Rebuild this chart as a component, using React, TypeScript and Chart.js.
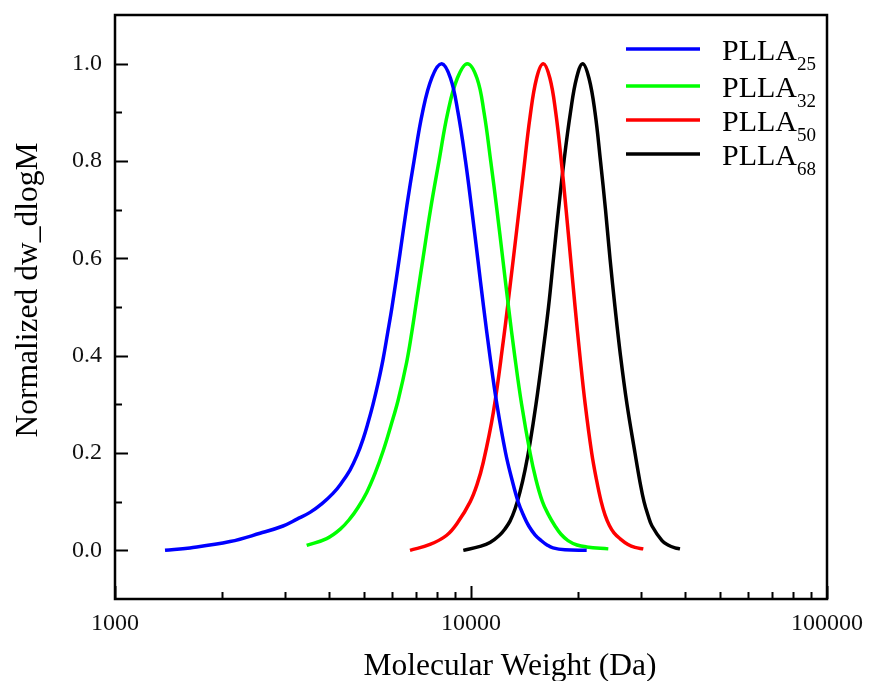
import React, { useEffect, useRef } from "react";
import { Chart, registerables } from "chart.js";

Chart.register(...registerables);

// ---- Data ----
const seriesNames = ["PLLA", "PLLA", "PLLA", "PLLA"];
const seriesSubs = ["25", "32", "50", "68"];
const seriesColors = ["#0000FF", "#00FF00", "#FF0000", "#000000"];

// Molecular weight (Da) / Normalized dw/dlogM
const pllA25_x = [1382, 1624, 2104, 2555, 2965, 3245, 3530, 3815, 4096, 4313, 4572, 4784, 4973, 5137, 5306, 5480, 5660, 5827, 6000, 6318, 6610, 6917, 7308, 7770, 8274, 8759, 9194, 9651, 10052, 10443, 10849, 11300, 11824, 12509, 13037, 13561, 14044, 14533, 15127, 15747, 16349, 16996, 18366, 21135];
const pllA25_y = [0, 0.005, 0.018, 0.035, 0.05, 0.064, 0.078, 0.096, 0.117, 0.137, 0.165, 0.195, 0.228, 0.262, 0.3, 0.343, 0.392, 0.445, 0.5, 0.61, 0.71, 0.8, 0.9, 0.972, 1.0, 0.97, 0.9, 0.8, 0.7, 0.6, 0.5, 0.4, 0.3, 0.2, 0.145, 0.1, 0.072, 0.05, 0.032, 0.02, 0.011, 0.005, 0.001, 0];

const pllA32_x = [3455, 3932, 4286, 4572, 4815, 5094, 5375, 5671, 5961, 6249, 6598, 6815, 7039, 7332, 7695, 8131, 8607, 9153, 9764, 10396, 10877, 11359, 11824, 12277, 12746, 13266, 13872, 14656, 15225, 15870, 16455, 17218, 17897, 18726, 19849, 21135, 24303];
const pllA32_y = [0.01, 0.024, 0.043, 0.065, 0.088, 0.119, 0.158, 0.205, 0.257, 0.31, 0.387, 0.447, 0.515, 0.6, 0.7, 0.8, 0.9, 0.97, 1.0, 0.97, 0.9, 0.8, 0.7, 0.6, 0.5, 0.4, 0.3, 0.2, 0.145, 0.1, 0.075, 0.05, 0.033, 0.02, 0.011, 0.007, 0.003];

const pllA50_x = [6740, 7670, 8546, 9194, 9935, 10396, 10828, 11551, 12323, 12870, 13439, 14026, 14646, 15295, 15963, 16659, 17296, 17932, 18497, 19044, 19607, 20225, 20931, 21831, 22517, 23211, 23789, 24476, 25214, 26213, 27605, 28883, 30479];
const pllA50_y = [0, 0.012, 0.031, 0.058, 0.099, 0.135, 0.181, 0.283, 0.43, 0.542, 0.658, 0.774, 0.89, 0.971, 1.0, 0.97, 0.9, 0.8, 0.7, 0.6, 0.5, 0.4, 0.3, 0.2, 0.145, 0.1, 0.073, 0.051, 0.036, 0.024, 0.012, 0.006, 0.003];

const pllA68_x = [9514, 10599, 11308, 12063, 12460, 12870, 13293, 13729, 14181, 14646, 15225, 15880, 16509, 17051, 17612, 18248, 19031, 19785, 20595, 21451, 22300, 23106, 23866, 24571, 25378, 26298, 27427, 28883, 29837, 30618, 31419, 32245, 34397, 35758, 37417, 38645];
const pllA68_y = [0, 0.008, 0.016, 0.032, 0.044, 0.06, 0.085, 0.12, 0.165, 0.22, 0.3, 0.4, 0.5, 0.6, 0.7, 0.8, 0.9, 0.97, 1.0, 0.97, 0.9, 0.8, 0.7, 0.6, 0.5, 0.4, 0.3, 0.2, 0.14, 0.1, 0.072, 0.05, 0.02, 0.011, 0.005, 0.003];

const xTickValues = [1000, 10000, 100000];
const yTickValues = [0, 0.2, 0.4, 0.6, 0.8, 1.0];
const xTitle = "Molecular Weight (Da)";
const yTitle = "Normalized dw_dlogM";

const seriesX = [pllA25_x, pllA32_x, pllA50_x, pllA68_x];
const seriesY = [pllA25_y, pllA32_y, pllA50_y, pllA68_y];

const FONT = "'Liberation Serif', 'Times New Roman', serif";

const overlayPlugin = {
  id: "overlay",
  afterDraw(chart: any) {
    const { ctx, chartArea: a, scales } = chart;
    const xs = scales.x;
    const ys = scales.y;
    ctx.save();
    // frame
    ctx.strokeStyle = "#000";
    ctx.lineWidth = 2.5;
    ctx.strokeRect(a.left, a.top, a.right - a.left, a.bottom - a.top);
    // inward ticks
    ctx.lineWidth = 2;
    ctx.beginPath();
    for (let dec = 1000; dec <= 100000; dec *= 10) {
      for (let m = 1; m < 10; m++) {
        const v = dec * m;
        if (v > 100000) break;
        const px = Math.round(xs.getPixelForValue(v)) + 0.5;
        const len = m === 1 ? 13 : 7;
        ctx.moveTo(px, a.bottom);
        ctx.lineTo(px, a.bottom - len);
      }
    }
    for (let i = 0; i <= 10; i++) {
      const v = i / 10;
      const py = Math.round(ys.getPixelForValue(v)) + 0.5;
      const len = i % 2 === 0 ? 13 : 7;
      ctx.moveTo(a.left, py);
      ctx.lineTo(a.left + len, py);
    }
    ctx.stroke();

    // axis titles
    ctx.fillStyle = "#000";
    ctx.font = `31.5px ${FONT}`;
    ctx.textAlign = "center";
    ctx.textBaseline = "alphabetic";
    ctx.fillText(xTitle, 510, 675);
    ctx.save();
    ctx.translate(37, 290);
    ctx.rotate(-Math.PI / 2);
    ctx.fillText(yTitle, 0, 0);
    ctx.restore();

    // legend
    const legendY = [49, 86, 120, 154];
    ctx.textAlign = "left";
    chart.data.datasets.forEach((ds: any, i: number) => {
      const y = legendY[i];
      ctx.strokeStyle = ds.borderColor;
      ctx.lineWidth = 3.5;
      ctx.beginPath();
      ctx.moveTo(626, y);
      ctx.lineTo(700, y);
      ctx.stroke();
      ctx.fillStyle = "#000";
      ctx.font = `30px ${FONT}`;
      ctx.fillText(seriesNames[i], 722, y + 10.5);
      const w = ctx.measureText(seriesNames[i]).width;
      ctx.font = `19px ${FONT}`;
      ctx.fillText(seriesSubs[i], 722 + w, y + 21);
    });
    ctx.restore();
  },
};

export default function App() {
  const ref = useRef<HTMLCanvasElement | null>(null);
  useEffect(() => {
    if (!ref.current) return;
    const datasets = seriesX.map((xs, i) => ({
      label: seriesNames[i] + seriesSubs[i],
      data: xs.map((x, j) => ({ x, y: seriesY[i][j] })),
      borderColor: seriesColors[i],
      backgroundColor: seriesColors[i],
      borderWidth: 3.5,
      pointRadius: 0,
      tension: 0.4,
      fill: false,
    }));
    const chart = new Chart(ref.current, {
      type: "line",
      data: { datasets },
      options: {
        responsive: false,
        animation: false,
        layout: { padding: { top: 15, right: 43, left: 0, bottom: 0 } },
        plugins: { legend: { display: false }, tooltip: { enabled: false } },
        scales: {
          x: {
            type: "logarithmic",
            min: 1000,
            max: 100000,
            grid: { display: false, drawTicks: false },
            border: { display: false },
            afterBuildTicks: (scale: any) => {
              scale.ticks = xTickValues.map((v) => ({ value: v }));
            },
            afterFit: (scale: any) => {
              scale.height = 82;
              scale.paddingLeft = 0;
              scale.paddingRight = 0;
            },
            ticks: {
              padding: 10,
              maxRotation: 0,
              color: "#111",
              font: { family: FONT, size: 24 },
              callback: (v: any) => String(v),
            },
          },
          y: {
            type: "linear",
            min: -0.1,
            max: 1.1,
            grid: { display: false, drawTicks: false },
            border: { display: false },
            afterBuildTicks: (scale: any) => {
              scale.ticks = yTickValues.map((v) => ({ value: v }));
            },
            afterFit: (scale: any) => {
              scale.width = 115;
              scale.paddingTop = 0;
              scale.paddingBottom = 0;
            },
            ticks: {
              padding: 13,
              color: "#111",
              font: { family: FONT, size: 24 },
              callback: (v: any) => Number(v).toFixed(1),
            },
          },
        },
      },
      plugins: [overlayPlugin],
    });
    return () => chart.destroy();
  }, []);
  return (
    <div style={{ position: "absolute", left: 0, top: 0, width: 870, height: 681, background: "#fff" }}>
      <canvas ref={ref} width={870} height={681} style={{ display: "block" }} />
    </div>
  );
}
